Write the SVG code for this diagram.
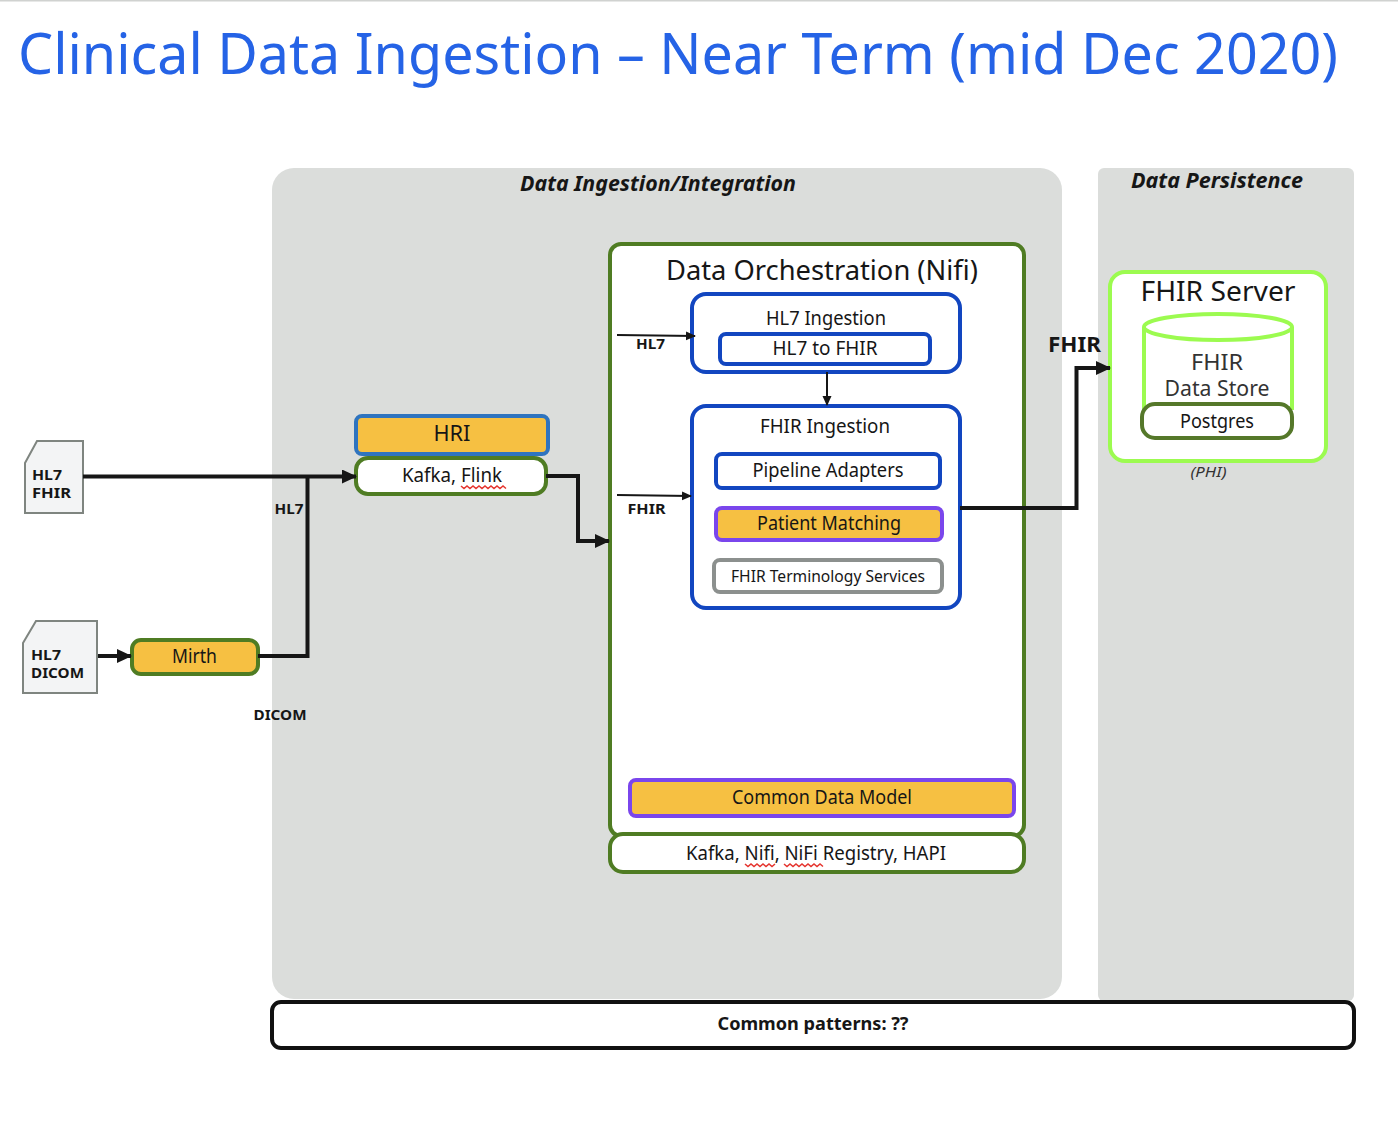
<svg xmlns="http://www.w3.org/2000/svg" width="1398" height="1128" viewBox="0 0 1398 1128">
<style>
text{font-family:"Noto Sans","Open Sans","Liberation Sans",sans-serif;fill:#161616;text-anchor:middle}
.b{font-weight:700}
.bi{font-weight:700;font-style:italic;font-size:21px}
.lab{font-weight:700;font-size:15px}
.box{fill:#fff;stroke-width:4}
.org{fill:#f6c042}
.g{stroke:#4f7c23}
.bl{stroke:#1246c0}
.p{stroke:#7a46ec}
.lg{stroke:#9cfb50}
.doc{fill:#f3f4f5;stroke:#7f8580;stroke-width:2}
.c{fill:none;stroke:#161616;stroke-width:4}
.t{fill:none;stroke:#161616;stroke-width:2}
.sq{fill:none;stroke:#e5342e;stroke-width:1.500}
</style>
<defs>
<marker id="a" markerUnits="userSpaceOnUse" markerWidth="16" markerHeight="14" refX="14" refY="7" orient="auto"><path d="M0 0L15 7L0 14z" fill="#161616"/></marker>
<marker id="s" markerUnits="userSpaceOnUse" markerWidth="10" markerHeight="10" refX="9" refY="5" orient="auto"><path d="M0 0.5L10 5L0 9.500z" fill="#161616"/></marker>
</defs>
<rect width="1398" height="1128" fill="#fff"/>
<rect width="1398" height="1.500" fill="#d0d2d0"/>
<text x="18" y="74" font-size="57" style="text-anchor:start;fill:#2563e6" textLength="1320" lengthAdjust="spacingAndGlyphs">Clinical Data Ingestion – Near Term (mid Dec 2020)</text>
<g id="zone-ingestion"><rect x="272" y="168" width="790" height="831" rx="22" fill="#dbdddb"/><text class="bi" x="658" y="191" textLength="276" lengthAdjust="spacingAndGlyphs">Data Ingestion/Integration</text></g>
<g id="zone-persistence"><rect x="1098" y="168" width="256" height="833" rx="6" fill="#dbdddb"/><text class="bi" x="1217" y="188" textLength="172" lengthAdjust="spacingAndGlyphs">Data Persistence</text></g>
<g id="common-patterns"><rect x="272" y="1002" width="1082" height="46" rx="9" fill="#fff" stroke="#111" stroke-width="4"/><text class="b" x="813" y="1030" font-size="18" textLength="191" lengthAdjust="spacingAndGlyphs">Common patterns: ??</text></g>
<g id="doc-fhir"><path class="doc" d="M25 463L37 441H83V513H25z"/><text class="lab" x="32" y="480" style="text-anchor:start" textLength="30" lengthAdjust="spacingAndGlyphs">HL7</text><text class="lab" x="32" y="498" style="text-anchor:start" textLength="39" lengthAdjust="spacingAndGlyphs">FHIR</text></g>
<g id="doc-dicom"><path class="doc" d="M23 643L36 621H97V693H23z"/><text class="lab" x="31" y="660" style="text-anchor:start" textLength="30" lengthAdjust="spacingAndGlyphs">HL7</text><text class="lab" x="31" y="678" style="text-anchor:start" textLength="53" lengthAdjust="spacingAndGlyphs">DICOM</text></g>
<g id="mirth"><rect class="org g" x="132" y="640" width="126" height="34" rx="9" stroke-width="4"/><text x="194.500" y="663" font-size="20" textLength="45" lengthAdjust="spacingAndGlyphs">Mirth</text></g>
<g id="hri"><rect class="org" x="356" y="416" width="192" height="38" rx="6" stroke="#2f74bf" stroke-width="4"/><text x="452" y="441" font-size="21" textLength="37" lengthAdjust="spacingAndGlyphs">HRI</text></g>
<g id="kafka-flink"><rect class="box g" x="356" y="458" width="190" height="36" rx="12"/><text x="452" y="482" font-size="20" textLength="100" lengthAdjust="spacingAndGlyphs">Kafka, Flink</text><path class="sq" d="M461 486l3 2.500l3-2.500l3 2.500l3-2.500l3 2.500l3-2.500l3 2.500l3-2.500l3 2.500l3-2.500l3 2.500l3-2.500l3 2.500l3-2.500l3 2.500"/></g>
<g id="orchestration"><rect class="box g" x="610" y="244" width="414" height="592" rx="11"/><text x="822" y="280" font-size="28" textLength="312" lengthAdjust="spacingAndGlyphs">Data Orchestration (Nifi)</text></g>
<g id="nifi-stack"><rect class="box g" x="610" y="834" width="414" height="38" rx="13"/><text x="816" y="860" font-size="20" textLength="260" lengthAdjust="spacingAndGlyphs">Kafka, Nifi, NiFi Registry, HAPI</text><path class="sq" d="M745 864l3 2.500l3-2.500l3 2.500l3-2.500l3 2.500l3-2.500l3 2.500l3-2.500l3 2.500l3-2.500M784 864l3 2.500l3-2.500l3 2.500l3-2.500l3 2.500l3-2.500l3 2.500l3-2.500l3 2.500l3-2.500l3 2.500l3-2.500l3 2.500"/></g>
<g id="hl7-ingestion"><rect class="box bl" x="692" y="294" width="268" height="78" rx="14"/><text x="826" y="325" font-size="20" textLength="120" lengthAdjust="spacingAndGlyphs">HL7 Ingestion</text></g>
<g id="hl7-to-fhir"><rect class="box bl" x="720" y="334" width="210" height="30" rx="6"/><text x="825" y="355" font-size="20" textLength="105" lengthAdjust="spacingAndGlyphs">HL7 to FHIR</text></g>
<g id="fhir-ingestion"><rect class="box bl" x="692" y="406" width="268" height="202" rx="14"/><text x="825" y="433" font-size="20" textLength="130" lengthAdjust="spacingAndGlyphs">FHIR Ingestion</text></g>
<g id="pipeline-adapters"><rect class="box bl" x="716" y="454" width="224" height="34" rx="6"/><text x="828" y="477" font-size="20" textLength="151" lengthAdjust="spacingAndGlyphs">Pipeline Adapters</text></g>
<g id="patient-matching"><rect class="org p" x="716" y="508" width="226" height="32" rx="6" stroke-width="4"/><text x="829" y="530" font-size="20" textLength="144" lengthAdjust="spacingAndGlyphs">Patient Matching</text></g>
<g id="terminology"><rect class="box" x="714" y="560" width="228" height="32" rx="6" stroke="#8c908e"/><text x="828" y="582" font-size="16.500" textLength="194" lengthAdjust="spacingAndGlyphs">FHIR Terminology Services</text></g>
<g id="common-data-model"><rect class="org p" x="630" y="780" width="384" height="36" rx="6" stroke-width="4"/><text x="822" y="804" font-size="20" textLength="180" lengthAdjust="spacingAndGlyphs">Common Data Model</text></g>
<g id="fhir-server"><rect class="box lg" x="1110" y="272" width="216" height="189" rx="15"/><text x="1218" y="301" font-size="27" textLength="155" lengthAdjust="spacingAndGlyphs">FHIR Server</text></g>
<g id="fhir-store"><path d="M1144 327V408H1292V327" fill="#fff" stroke="#9cfb50" stroke-width="4"/><ellipse cx="1218" cy="327" rx="74" ry="13" fill="#fff" stroke="#9cfb50" stroke-width="4"/><text x="1217" y="370" font-size="21" textLength="52" lengthAdjust="spacingAndGlyphs" style="fill:#333">FHIR</text><text x="1217" y="396" font-size="21" textLength="105" lengthAdjust="spacingAndGlyphs" style="fill:#333">Data Store</text></g>
<g id="postgres"><rect class="box" x="1142" y="404" width="150" height="34" rx="13" stroke="#55782a"/><text x="1217" y="428" font-size="19.500" textLength="74" lengthAdjust="spacingAndGlyphs">Postgres</text></g>
<text x="1208.500" y="477" font-size="14" font-style="italic" textLength="36" lengthAdjust="spacingAndGlyphs" style="fill:#333">(PHI)</text>
<g id="connectors">
<path class="c" d="M83 476.500H356" marker-end="url(#a)"/>
<path class="c" d="M258 656H307.500V476.500"/>
<path class="c" d="M98 656H131" marker-end="url(#a)"/>
<path class="c" d="M546 476H578V541H609" marker-end="url(#a)"/>
<path class="c" d="M960 508H1076.500V368H1110" marker-end="url(#a)"/>
<path class="t" d="M617 335L695 336" marker-end="url(#s)"/>
<path class="t" d="M617 495L691 496" marker-end="url(#s)"/>
<path class="t" d="M827 372V405" marker-end="url(#s)"/>
</g>
<text class="lab" x="289" y="514" textLength="29" lengthAdjust="spacingAndGlyphs">HL7</text>
<text class="lab" x="280" y="720" textLength="53" lengthAdjust="spacingAndGlyphs">DICOM</text>
<text class="lab" x="650.500" y="349" textLength="29" lengthAdjust="spacingAndGlyphs">HL7</text>
<text class="lab" x="646.500" y="514" textLength="38" lengthAdjust="spacingAndGlyphs">FHIR</text>
<text class="b" x="1074.500" y="352" font-size="22" textLength="53" lengthAdjust="spacingAndGlyphs">FHIR</text>
</svg>
